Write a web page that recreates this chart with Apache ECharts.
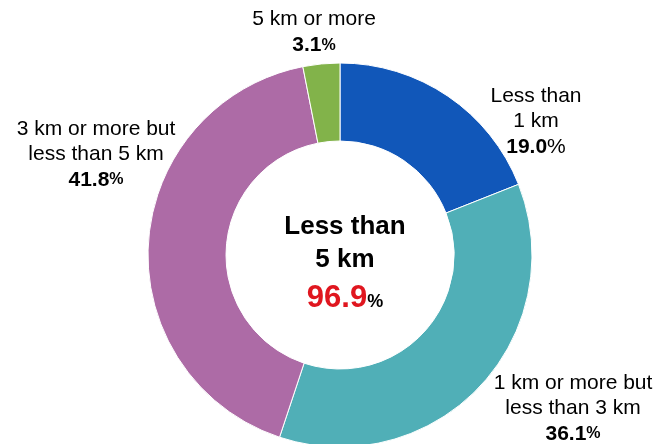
<!DOCTYPE html>
<html>
<head>
<meta charset="utf-8">
<script src="https://cdn.jsdelivr.net/npm/echarts@6/dist/echarts.min.js"></script>
<style>
  html, body { margin: 0; padding: 0; background: #fff; }
  #chart { width: 655px; height: 444px; }
</style>
</head>
<body>
<div id="chart"></div>
<script>
// distance categories, clockwise from the top
const categories = [
  'Less than\n1 km',
  '1 km or more but\nless than 3 km',
  '3 km or more but\nless than 5 km',
  '5 km or more'
];
const shares = [19.0, 36.1, 41.8, 3.1];
const colors = ['#1157b9', '#50afb7', '#ad6ba6', '#82b34a'];
const centerTitle = 'Less than\n5 km';
const centerValue = '96.9';

// where each outside label sits (centre of the text block)
const labelPos = [
  [536, 122],
  [573, 409],
  [96, 155],
  [314, 33]
];

const chart = echarts.init(document.getElementById('chart'), null, { renderer: 'canvas' });

const font = 'Liberation Sans, Arial, sans-serif';

chart.setOption({
  animation: false,
  title: {
    text: '{t|' + centerTitle + '}\n{v|' + centerValue + '}{p|%}',
    left: 340,
    top: 260,
    textAlign: 'center',
    textVerticalAlign: 'middle',
    textStyle: {
      rich: {
        t: { fontFamily: font, fontSize: 26, fontWeight: 'bold', color: '#000', lineHeight: 33, align: 'center' },
        v: { fontFamily: font, fontSize: 31, fontWeight: 'bold', color: '#e0161f', lineHeight: 44 },
        p: { fontFamily: font, fontSize: 18, fontWeight: 'bold', color: '#000', lineHeight: 44, padding: [8, 0, 0, 0] }
      }
    }
  },
  series: [
    {
      type: 'pie',
      center: [340, 255],
      radius: [114, 192],
      startAngle: 90,
      clockwise: true,
      silent: true,
      itemStyle: { borderColor: '#fff', borderWidth: 1 },
      labelLine: { show: false },
      label: {
        show: true,
        position: 'outside',
        overflow: 'none',
        alignTo: 'none',
        bleedMargin: 0,
        formatter: function (p) {
          // the first label has a full-size plain percent sign
          const pct = p.dataIndex === 0 ? '{q|%}' : '{p|%}';
          return '{n|' + p.name.split('\n').join('}\n{n|') + '}\n{v|' + p.value.toFixed(1) + '}' + pct;
        },
        rich: {
          n: { fontFamily: font, fontSize: 21, color: '#000', lineHeight: 25, align: 'center' },
          v: { fontFamily: font, fontSize: 21, fontWeight: 'bold', color: '#000', lineHeight: 27 },
          p: { fontFamily: font, fontSize: 16, fontWeight: 'bold', color: '#000', lineHeight: 27 },
          q: { fontFamily: font, fontSize: 21, color: '#000', lineHeight: 27 }
        }
      },
      labelLayout: function (params) {
        const pos = labelPos[params.dataIndex];
        return { x: pos[0], y: pos[1], align: 'center', verticalAlign: 'middle' };
      },
      data: categories.map((name, i) => ({
        name: name,
        value: shares[i],
        itemStyle: { color: colors[i] }
      }))
    }
  ]
});
</script>
</body>
</html>
